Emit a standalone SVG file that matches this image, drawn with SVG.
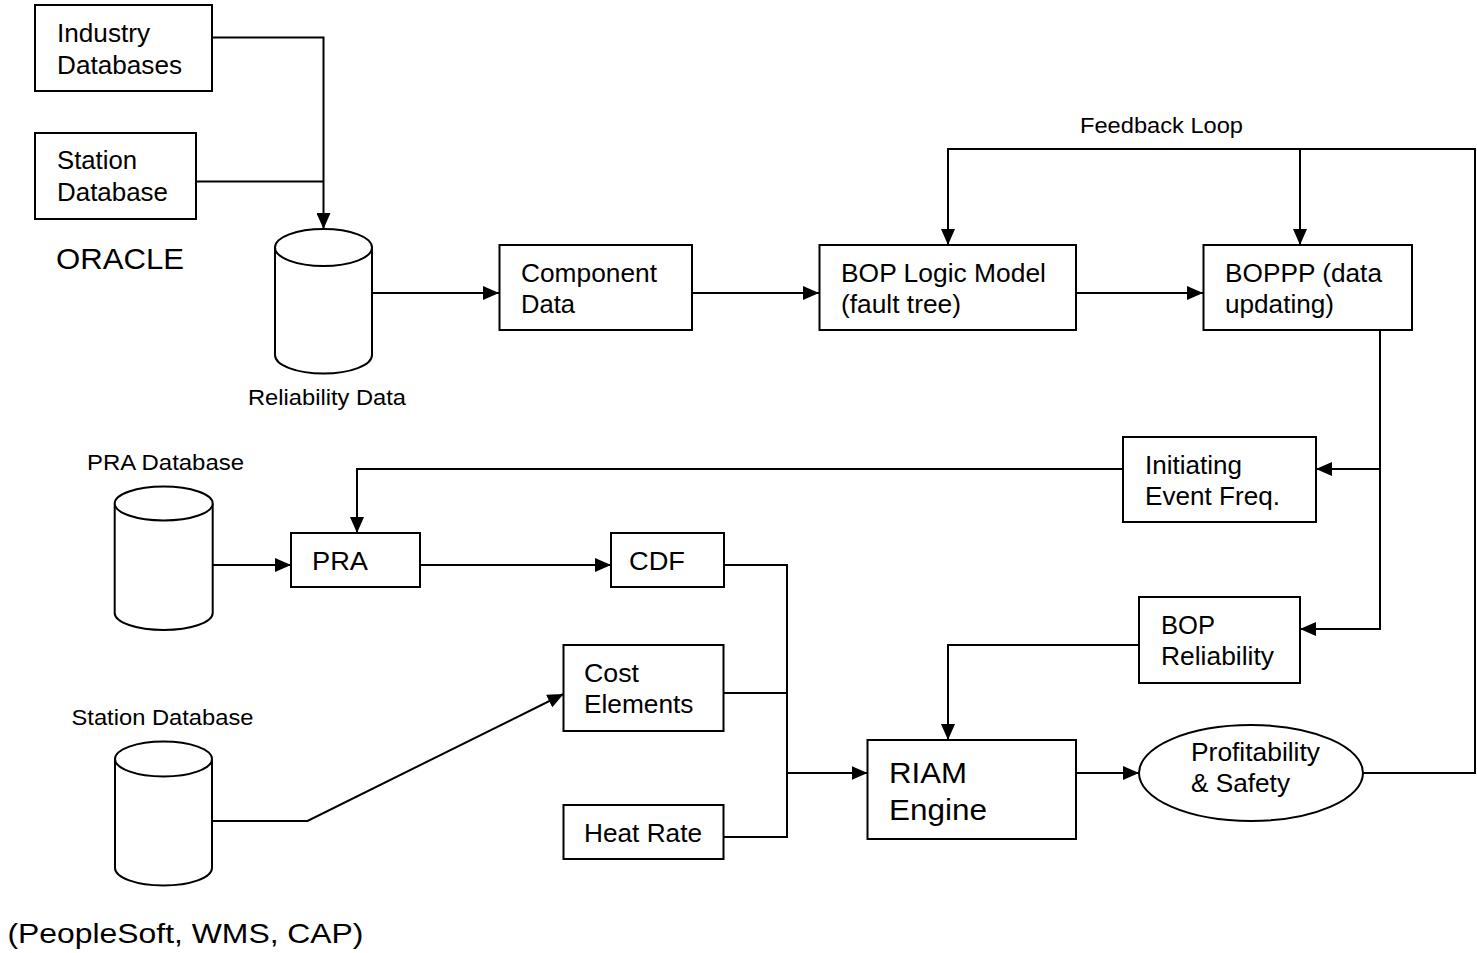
<svg xmlns="http://www.w3.org/2000/svg" width="1477" height="953" viewBox="0 0 1477 953">
  <style>
    .box { fill: #fff; stroke: #000; stroke-width: 2; }
    .db { fill: #fff; stroke: #000; stroke-width: 2; }
    .wire { fill: none; stroke: #000; stroke-width: 2; }
    .arrow { marker-end: url(#head); }
    text { font-family: "Liberation Sans", Arial, sans-serif; fill: #000; }
    .lbl { font-size: 25.5px; }
    .big { font-size: 29px; }
    .small { font-size: 21.5px; }
    .note { font-size: 27.5px; }
  </style>
  <defs>
    <marker id="head" markerUnits="userSpaceOnUse" markerWidth="16" markerHeight="14" refX="16" refY="7" orient="auto">
      <path d="M0,0 L16,7 L0,14 Z" fill="#000"/>
    </marker>
  </defs>
  <rect width="1477" height="953" fill="#fff"/>

  <!-- connectors -->
  <g id="connectors">
    <path class="wire arrow" d="M212,37.5 H323.5 V229"/>
    <path class="wire" d="M196,181.5 H323.5"/>
    <path class="wire arrow" d="M372,293 H499"/>
    <path class="wire arrow" d="M692,293 H819"/>
    <path class="wire arrow" d="M1076,293 H1203"/>
    <path class="wire arrow" d="M1363,773 H1475 V149 H948 V245"/>
    <path class="wire arrow" d="M1300,149 V245"/>
    <path class="wire arrow" d="M1380,325 V629 H1300"/>
    <path class="wire arrow" d="M1380,469 H1316"/>
    <path class="wire arrow" d="M1123,469 H357 V533"/>
    <path class="wire arrow" d="M212.6,565 H291"/>
    <path class="wire arrow" d="M420,565 H611"/>
    <path class="wire" d="M724,565 H787 V837 H723.5"/>
    <path class="wire" d="M723.5,693 H787"/>
    <path class="wire arrow" d="M787,773 H867.5"/>
    <path class="wire arrow" d="M1139,645 H948 V740"/>
    <path class="wire arrow" d="M1076,773 H1139"/>
    <path class="wire arrow" d="M212,821 H307.5 L563.5,694"/>
  </g>

  <!-- source databases -->
  <g id="industry-databases">
    <rect class="box" x="35" y="5" width="177" height="86"/>
    <text class="lbl" x="57" y="42" textLength="93" lengthAdjust="spacingAndGlyphs">Industry</text>
    <text class="lbl" x="57" y="73.5" textLength="125" lengthAdjust="spacingAndGlyphs">Databases</text>
  </g>
  <g id="station-database-box">
    <rect class="box" x="35" y="133" width="161" height="86"/>
    <text class="lbl" x="57" y="169" textLength="80" lengthAdjust="spacingAndGlyphs">Station</text>
    <text class="lbl" x="57" y="201" textLength="111" lengthAdjust="spacingAndGlyphs">Database</text>
  </g>
  <g id="oracle-label">
    <text class="big" x="56" y="269" textLength="128" lengthAdjust="spacingAndGlyphs">ORACLE</text>
  </g>

  <g id="reliability-data">
    <path class="db" d="M275,247.5 V355 A48.5,18.5 0 0 0 372,355 V247.5"/>
    <ellipse class="db" cx="323.5" cy="247.5" rx="48.5" ry="18.5"/>
    <text class="small" x="248" y="404.5" textLength="158" lengthAdjust="spacingAndGlyphs">Reliability Data</text>
  </g>

  <g id="component-data">
    <rect class="box" x="499.5" y="245" width="192.5" height="85"/>
    <text class="lbl" x="521" y="282" textLength="136" lengthAdjust="spacingAndGlyphs">Component</text>
    <text class="lbl" x="521" y="313" textLength="54" lengthAdjust="spacingAndGlyphs">Data</text>
  </g>

  <g id="bop-logic-model">
    <rect class="box" x="819.5" y="245" width="256.5" height="85"/>
    <text class="lbl" x="841" y="282" textLength="205" lengthAdjust="spacingAndGlyphs">BOP Logic Model</text>
    <text class="lbl" x="841" y="313" textLength="120" lengthAdjust="spacingAndGlyphs">(fault tree)</text>
  </g>

  <g id="boppp">
    <rect class="box" x="1203.5" y="245" width="208.5" height="85"/>
    <text class="lbl" x="1225" y="282" textLength="157" lengthAdjust="spacingAndGlyphs">BOPPP (data</text>
    <text class="lbl" x="1225" y="313" textLength="109" lengthAdjust="spacingAndGlyphs">updating)</text>
  </g>

  <g id="feedback-loop-label">
    <text class="small" x="1080" y="133" textLength="163" lengthAdjust="spacingAndGlyphs">Feedback Loop</text>
  </g>

  <g id="initiating-event-freq">
    <rect class="box" x="1123" y="437" width="193" height="85"/>
    <text class="lbl" x="1145" y="474" textLength="97" lengthAdjust="spacingAndGlyphs">Initiating</text>
    <text class="lbl" x="1145" y="505" textLength="135" lengthAdjust="spacingAndGlyphs">Event Freq.</text>
  </g>

  <g id="bop-reliability">
    <rect class="box" x="1139" y="597" width="161" height="86"/>
    <text class="lbl" x="1161" y="634" textLength="54" lengthAdjust="spacingAndGlyphs">BOP</text>
    <text class="lbl" x="1161" y="665" textLength="113" lengthAdjust="spacingAndGlyphs">Reliability</text>
  </g>

  <g id="pra-database">
    <text class="small" x="87" y="470" textLength="157" lengthAdjust="spacingAndGlyphs">PRA Database</text>
    <path class="db" d="M114.7,503.5 V613 A49,17 0 0 0 212.7,613 V503.5"/>
    <ellipse class="db" cx="163.7" cy="503.5" rx="49" ry="17"/>
  </g>

  <g id="pra">
    <rect class="box" x="291" y="533" width="129" height="54"/>
    <text class="lbl" x="312" y="570" textLength="56" lengthAdjust="spacingAndGlyphs">PRA</text>
  </g>

  <g id="cdf">
    <rect class="box" x="611" y="533" width="113" height="54"/>
    <text class="lbl" x="629" y="570" textLength="56" lengthAdjust="spacingAndGlyphs">CDF</text>
  </g>

  <g id="cost-elements">
    <rect class="box" x="563.5" y="645" width="160" height="86"/>
    <text class="lbl" x="584" y="682" textLength="55" lengthAdjust="spacingAndGlyphs">Cost</text>
    <text class="lbl" x="584" y="713" textLength="109.5" lengthAdjust="spacingAndGlyphs">Elements</text>
  </g>

  <g id="heat-rate">
    <rect class="box" x="563.5" y="805" width="160" height="54"/>
    <text class="lbl" x="584" y="842" textLength="118" lengthAdjust="spacingAndGlyphs">Heat Rate</text>
  </g>

  <g id="station-database">
    <text class="small" x="71.5" y="725" textLength="182" lengthAdjust="spacingAndGlyphs">Station Database</text>
    <path class="db" d="M115,759 V868 A48.5,17.5 0 0 0 212,868 V759"/>
    <ellipse class="db" cx="163.5" cy="759" rx="48.5" ry="17.5"/>
  </g>

  <g id="peoplesoft-label">
    <text class="note" x="7.5" y="942.5" textLength="356" lengthAdjust="spacingAndGlyphs">(PeopleSoft, WMS, CAP)</text>
  </g>

  <g id="riam-engine">
    <rect class="box" x="867.5" y="740" width="208.5" height="99"/>
    <text class="big" x="889" y="783" textLength="78" lengthAdjust="spacingAndGlyphs">RIAM</text>
    <text class="big" x="889" y="820" textLength="98" lengthAdjust="spacingAndGlyphs">Engine</text>
  </g>

  <g id="profitability-safety">
    <ellipse class="box" cx="1251" cy="773" rx="112" ry="48"/>
    <text class="lbl" x="1191" y="761" textLength="129" lengthAdjust="spacingAndGlyphs">Profitability</text>
    <text class="lbl" x="1191" y="792" textLength="99" lengthAdjust="spacingAndGlyphs">&amp; Safety</text>
  </g>
</svg>
